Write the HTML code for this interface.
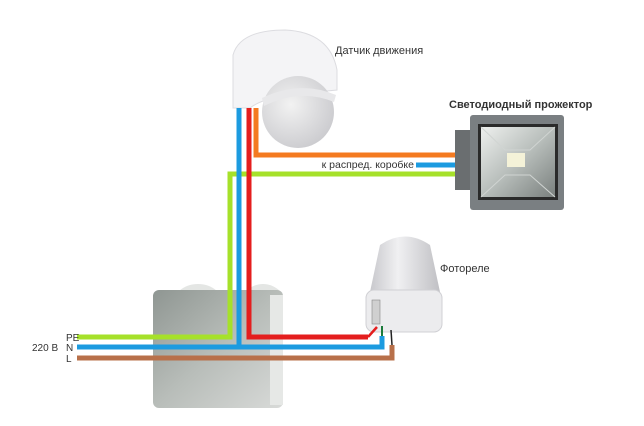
<!DOCTYPE html>
<html><head><meta charset="utf-8"><style>
html,body{margin:0;padding:0;background:#fff}
svg{display:block}
text{font-family:"Liberation Sans","DejaVu Sans",sans-serif;fill:#333}
</style></head><body>
<svg width="644" height="426" viewBox="0 0 644 426" xmlns="http://www.w3.org/2000/svg">
<defs>
<linearGradient id="box" x1="0" y1="0" x2="1" y2="1"><stop offset="0" stop-color="#8f9692"/><stop offset="0.5" stop-color="#b8bdb9"/><stop offset="1" stop-color="#d8dad8"/></linearGradient>
<radialGradient id="lens" cx="0.4" cy="0.4" r="0.7"><stop offset="0" stop-color="#f2f2f2"/><stop offset="1" stop-color="#c8c8cc"/></radialGradient>
<linearGradient id="refl" x1="0" y1="0" x2="1" y2="1"><stop offset="0" stop-color="#eef0ee"/><stop offset="0.5" stop-color="#b8bebb"/><stop offset="1" stop-color="#7a807e"/></linearGradient>
<linearGradient id="cone" x1="0" y1="0" x2="1" y2="0"><stop offset="0" stop-color="#c8c8cc"/><stop offset="0.4" stop-color="#f0f0f2"/><stop offset="1" stop-color="#c0c0c4"/></linearGradient>
</defs>
<!-- junction box -->
<path d="M178 292 q8 -8 20 -8 q12 0 20 8z" fill="#e4e6e4"/>
<path d="M245 292 q8 -8 18 -8 q10 0 18 8z" fill="#e4e6e4"/>
<rect x="153" y="290" width="130" height="118" rx="6" fill="url(#box)"/>
<rect x="270" y="295" width="13" height="110" fill="#e6e8e6"/>
<!-- motion sensor -->
<path d="M233 108 L233 55 Q240 30 285 30 Q330 32 337 70 L337 90 L285 95 Q260 100 250 108z" fill="#f4f4f6" stroke="#dcdce0"/>
<circle cx="298" cy="112" r="36" fill="url(#lens)"/>
<path d="M262 98 Q300 80 336 95 L334 102 Q300 88 264 106z" fill="#e8e8ea"/>
<!-- spotlight -->
<rect x="455" y="130" width="18" height="60" fill="#6a6e70"/>
<rect x="470" y="115" width="94" height="95" rx="3" fill="#7a7f82"/>
<rect x="478" y="124" width="80" height="76" fill="#2a2a2a"/>
<rect x="481" y="127" width="74" height="70" fill="url(#refl)"/>
<path d="M481 127 L505 150 L530 150 L555 127 M481 197 L505 175 L530 175 L555 197" stroke="#d0d4d2" fill="none"/>
<rect x="507" y="153" width="18" height="14" fill="#f4f2d8"/>
<!-- photorelay -->
<path d="M380 245 Q405 228 430 245 L440 292 L370 292z" fill="url(#cone)"/>
<rect x="366" y="290" width="76" height="42" rx="8" fill="#ececee" stroke="#d0d0d4"/>
<rect x="372" y="300" width="8" height="24" fill="#d0d0d0" stroke="#888" stroke-width="0.6"/>
<!-- wires -->
<g fill="none" stroke-width="5" stroke-linejoin="miter">
<polyline points="256,108 256,155 455,155" stroke="#f47a20"/>
<polyline points="416,165 455,165" stroke="#1c9be0"/>
<polyline points="455,174 230,174 230,337 77,337" stroke="#a6e12a"/>
<polyline points="249,108 249,337 368,337" stroke="#e41e1e"/>
<polyline points="239,108 239,347" stroke="#1c9be0"/>
<polyline points="77,347 382,347 382,336" stroke="#1c9be0"/>
<polyline points="77,358 392,358 392,345" stroke="#b8704a"/>
</g>
<polyline points="368,337 377,327" stroke="#e41e1e" stroke-width="2.5" fill="none"/>
<line x1="382" y1="336" x2="382" y2="326" stroke="#1a7a3a" stroke-width="2"/>
<line x1="392" y1="345" x2="391" y2="330" stroke="#222" stroke-width="1.5"/>
<!-- labels -->
<text x="335" y="54" font-size="11">Датчик движения</text>
<text x="449" y="108" font-size="11" font-weight="bold">Светодиодный прожектор</text>
<text x="414" y="168" font-size="10.5" text-anchor="end">к распред. коробке</text>
<text x="440" y="272" font-size="11">Фотореле</text>
<text x="66" y="341" font-size="10">PE</text>
<text x="66" y="351" font-size="10">N</text>
<text x="66" y="362" font-size="10">L</text>
<text x="32" y="351" font-size="10">220 В</text>
</svg>
</body></html>
